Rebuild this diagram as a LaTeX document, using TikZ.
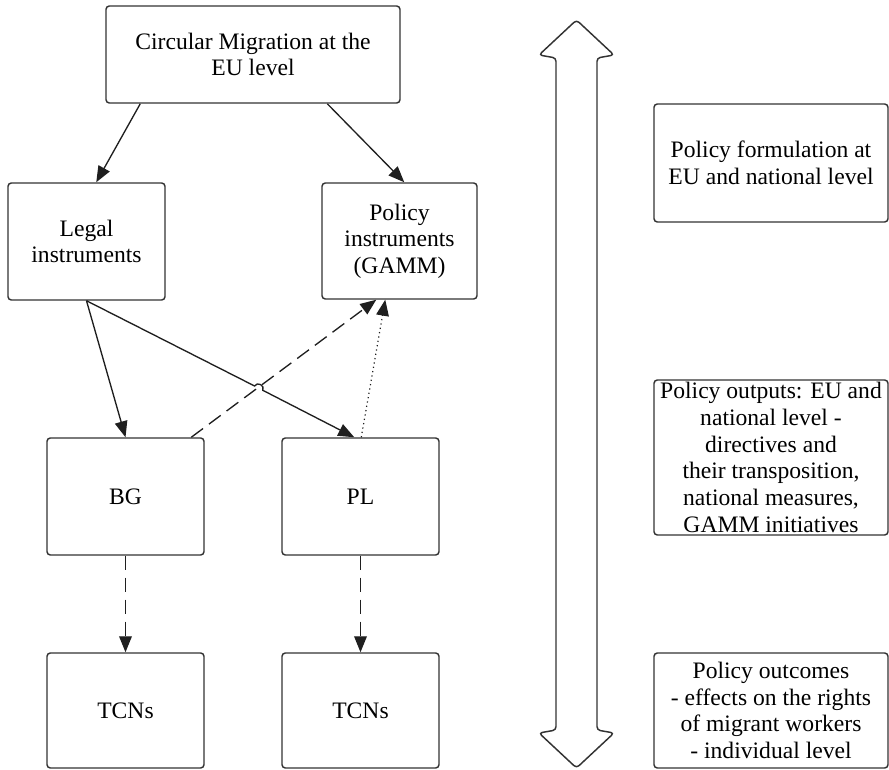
\documentclass[tikz,border=0pt]{standalone}
\usepackage{fontspec}
\setmainfont{Liberation Serif}
\newfontfamily\timesfont{Liberation Serif}
\usetikzlibrary{arrows.meta,calc}
\tikzset{
  box/.style={draw=black!80, line width=1.1pt, rounded corners=2.5pt, fill=white,
    align=center, inner sep=0pt, font=\timesfont\fontsize{17.7}{20}\selectfont},
  conn/.style={draw=black!88, line width=1pt, -{Triangle[length=12pt,width=9.5pt]}},
  dashconn/.style={conn, dash pattern=on 11pt off 5.5pt},
  dotconn/.style={conn, line width=0.9pt, dash pattern=on 0.9pt off 2.4pt},
  bigarrow/.style={draw=black!80, line width=1.1pt, rounded corners=2.5pt, fill=white}
}
\begin{document}
\begin{tikzpicture}[x=0.75pt,y=-0.75pt]
\useasboundingbox (0,0) rectangle (889,770);

% left diagram
\node[box, minimum width=220.5pt, minimum height=72.75pt] (top) at (253,54.5) {Circular Migration at the\\EU level};
\node[box, minimum width=117.75pt, minimum height=87.75pt] (legal) at (86.5,241.5) {Legal\\instruments};
\node[box, minimum width=116.25pt, minimum height=87pt] (polinst) at (399.5,241) {Policy\\instruments\\(GAMM)};
\node[box, minimum width=117.75pt, minimum height=87.75pt] (bg) at (125.5,496.5) {BG};
\node[box, minimum width=117.75pt, minimum height=87.75pt] (pl) at (360.5,496.5) {PL};
\node[box, minimum width=117.75pt, minimum height=86.25pt] (tcnA) at (125.5,710.5) {TCNs};
\node[box, minimum width=117.75pt, minimum height=86.25pt] (tcnB) at (360.5,710.5) {TCNs};

% right column
\node[box, minimum width=175.5pt, minimum height=88.5pt] (form) at (771,163) {Policy formulation at\\EU and national level};
\node[box, minimum width=175.5pt, minimum height=116.25pt] (outp) at (771,457.5) {Policy outputs: EU and\\national level -\\directives and\\their transposition,\\national measures,\\GAMM initiatives};
\node[box, minimum width=175.5pt, minimum height=86.25pt] (outc) at (771,710.5) {Policy outcomes\\- effects on the rights\\of migrant workers\\- individual level};

% double-headed block arrow
\path[bigarrow] (576.5,20) -- (614,55) -- (597,58) -- (597,730) -- (614,733)
  -- (576.5,768) -- (539,733) -- (556,730) -- (556,58) -- (539,55) -- cycle;

% connectors
\draw[conn] ($(top.south west)+(35,0)$) -- ($(legal.north west)+(89,0)$);
\draw[conn] ($(top.south west)+(222,0)$) -- ($(polinst.north west)+(83,0)$);
\draw[conn] (legal.south) -- (bg.north);
\coordinate (hopA) at (254.6,386.0);
\coordinate (hopB) at (262.8,390.3);
\draw[conn] (legal.south) -- (hopA) .. controls (257.1,381.2) and (265.3,385.5) .. (hopB) -- ($(pl.north west)+(73,0)$);
\draw[dashconn] ($(bg.north west)+(145,0)$) -- ($(polinst.south west)+(55,0)$);
\draw[dotconn] ($(pl.north west)+(80,0)$) -- ($(polinst.south west)+(64,0)$);
\draw[dashconn] (bg.south) -- (tcnA.north);
\draw[dashconn] (pl.south) -- (tcnB.north);
\end{tikzpicture}
\end{document}
